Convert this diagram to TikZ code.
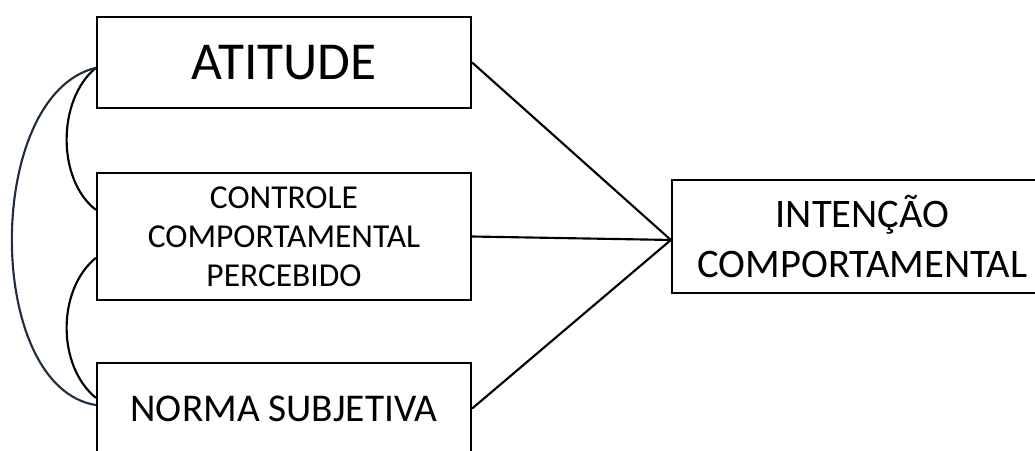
\documentclass[tikz,border=0pt]{standalone}
\usepackage{fontspec}
\setmainfont{Carlito}
\definecolor{navy}{RGB}{31,45,62}

\begin{document}
\begin{tikzpicture}[x=0.75pt,y=0.75pt,yscale=-1,xscale=1,
  box/.style={draw, line width=1.7pt, inner sep=0pt, align=center, minimum width=280.5pt},
  link/.style={line width=1.6pt}]
%set diagram to the size of the reference
\useasboundingbox (0,0) rectangle (1035,450);

% Boxes
\node[box, minimum height=68.25pt, font=\fontsize{40}{45}\selectfont] (att) at (284,62.5) {ATITUDE};
\node[box, minimum height=95.25pt, font=\fontsize{25.1}{29.25}\selectfont] (ctrl) at (284,236.5) {CONTROLE\\COMPORTAMENTAL\\PERCEBIDO};
\node[box, minimum height=68.25pt, font=\fontsize{29.5}{35}\selectfont] (norma) at (284,408.5) {NORMA SUBJETIVA};
\node[box, minimum width=285.75pt, minimum height=84.75pt, font=\fontsize{30.4}{37.5}\selectfont] (int) at (862.5,236.5) {INTENÇÃO\\COMPORTAMENTAL};
\coordinate (meet) at ([yshift=2.6pt]int.west);

% Straight Lines
\draw [link] (att.east) -- (meet);
\draw [link] (ctrl.east) -- (meet);
\draw [link] (norma.east) -- (meet);

% Curves
\draw [link] ([yshift=4pt]att.west) .. controls +(-39,32) and +(-39,-30) .. ([yshift=-20pt]ctrl.west);
\draw [link] ([yshift=16pt]ctrl.west) .. controls +(-39,32) and +(-39,-32) .. ([yshift=-8pt]norma.west);
\draw [link, navy] ([yshift=4pt]att.west) .. controls +(-112,27) and +(-112,-18) .. ([yshift=-2.6pt]norma.west);

\end{tikzpicture}
\end{document}
